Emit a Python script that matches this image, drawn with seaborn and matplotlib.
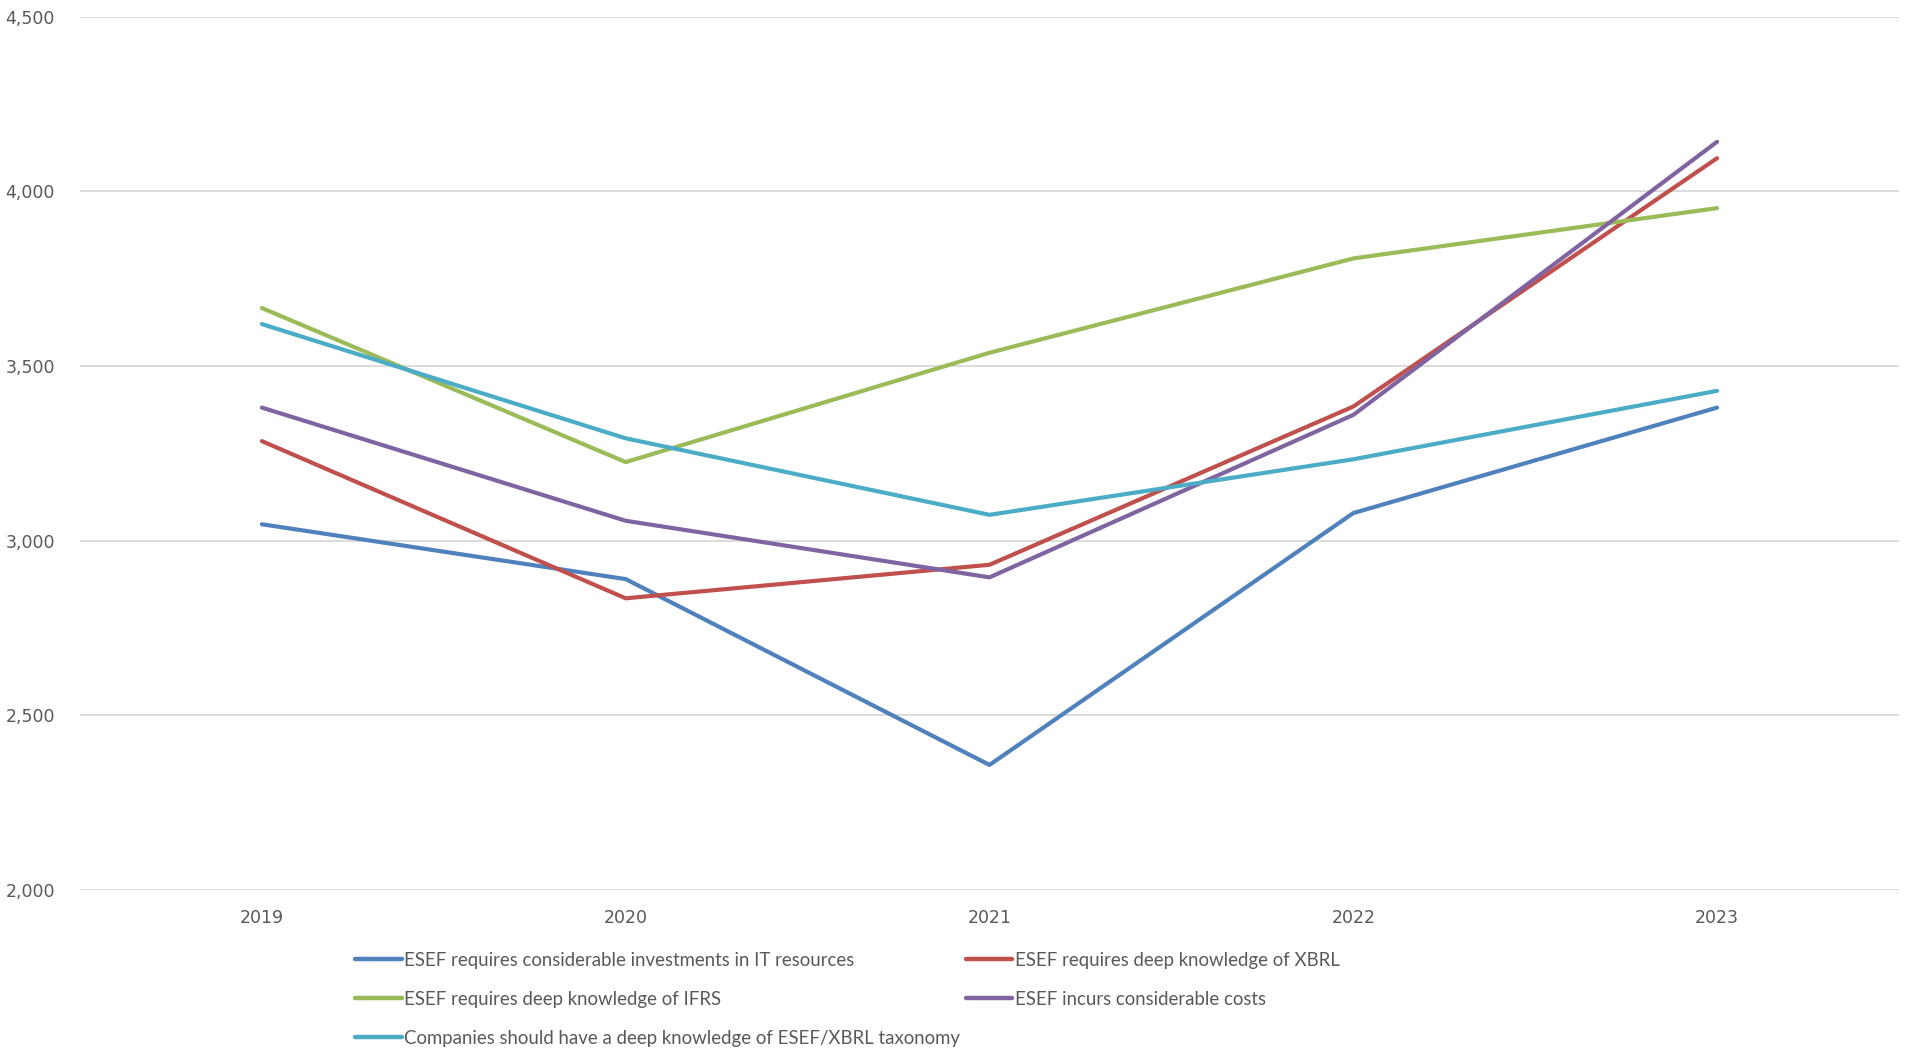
import matplotlib
matplotlib.use("Agg")
import matplotlib.pyplot as plt
import seaborn as sns
import pandas as pd

years = ["2019", "2020", "2021", "2022", "2023"]
series_names = [
    "ESEF requires considerable investments in IT resources",
    "ESEF requires deep knowledge of XBRL",
    "ESEF requires deep knowledge of IFRS",
    "ESEF incurs considerable costs",
    "Companies should have a deep knowledge of ESEF/XBRL taxonomy",
]
it_resources = [3047, 2890, 2358, 3079, 3381]
xbrl_knowledge = [3285, 2835, 2931, 3384, 4095]
ifrs_knowledge = [3666, 3225, 3538, 3808, 3952]
costs = [3381, 3057, 2895, 3360, 4142]
taxonomy_knowledge = [3620, 3293, 3074, 3233, 3429]
colors = ["#4F81BD", "#C0504D", "#9BBB59", "#8064A2", "#4BACC6"]
y_ticks = [2000, 2500, 3000, 3500, 4000, 4500]

all_values = [it_resources, xbrl_knowledge, ifrs_knowledge, costs, taxonomy_knowledge]
rows = []
for name, vals in zip(series_names, all_values):
    for i, (yr, v) in enumerate(zip(years, vals)):
        rows.append({"pos": i, "year": yr, "value": v, "series": name})
df = pd.DataFrame(rows)

sns.set_theme(style="white")
plt.rcParams["font.family"] = ["DejaVu Sans"]

fig = plt.figure(figsize=(19.08, 10.5), dpi=100)
ax = fig.add_axes([80 / 1908, 1 - 890 / 1050, (1899 - 80) / 1908, (890 - 16.7) / 1050])

sns.lineplot(data=df, x="pos", y="value", hue="series", hue_order=series_names,
             palette=colors, linewidth=3.0, ax=ax, legend=False,
             solid_capstyle="round")

ax.set_xlim(-0.5, 4.5)
ax.set_ylim(2000, 4500)
ax.set_xticks(range(len(years)))
ax.set_xticklabels(years)
ax.set_yticks(y_ticks)
ax.set_yticklabels([f"{t:,}" for t in y_ticks])
ax.set_xlabel("")
ax.set_ylabel("")
ax.grid(axis="y", color="#D9D9D9", linewidth=1.3)
ax.set_axisbelow(True)
for s in ax.spines.values():
    s.set_visible(False)
ax.tick_params(axis="both", length=0, labelsize=12.5, colors="#595959")
ax.tick_params(axis="y", pad=18)
ax.tick_params(axis="x", pad=14)

lines = ax.get_lines()[:5]
order = [0, 2, 4, 1, 3]
handles = [lines[i] for i in order]
labels = [series_names[i] for i in order]
leg = fig.legend(handles, labels, ncol=2, loc="upper left",
                 bbox_to_anchor=(355 / 1908, 1 - 952 / 1050),
                 frameon=False, borderpad=0, borderaxespad=0,
                 handlelength=2.5, handletextpad=0.15, columnspacing=0.3,
                 labelspacing=1.18, prop={"family": "Lato", "size": 13.4})
for t in leg.get_texts():
    t.set_color("#595959")
for h in leg.legend_handles:
    h.set_linewidth(3.2)

fig.savefig("out.png", dpi=100)
